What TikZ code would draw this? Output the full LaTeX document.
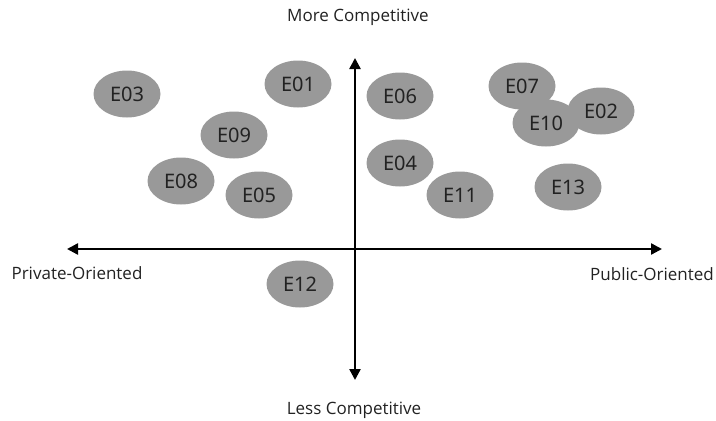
\documentclass[tikz,border=0pt]{standalone}
\usepackage{fontspec}
\setmainfont{Open Sans}
\newfontfamily\bubblefont{Noto Sans}
\usetikzlibrary{shapes.geometric,arrows.meta}
\definecolor{bubblegray}{HTML}{999999}
\definecolor{textdark}{HTML}{222222}
\begin{document}
\begin{tikzpicture}[x=1pt,y=-1pt,
  bubble/.style={ellipse,fill=bubblegray,minimum width=67pt,minimum height=47pt,inner sep=0pt,
    font=\bubblefont\fontsize{20}{20}\selectfont,text=textdark},
  axis/.style={line width=2.4pt,-{Triangle[length=11pt,width=11pt]}},
  axislabel/.style={font=\fontsize{17}{17}\selectfont,text=textdark,inner sep=0pt}]
\useasboundingbox (0,0) rectangle (716,421);
% axes
\coordinate (origin) at (355,249);
\coordinate (left) at (67,249);
\coordinate (right) at (662,249);
\coordinate (top) at (355,58);
\coordinate (bottom) at (355,380);
\draw[axis] (origin) -- (left);
\draw[axis] (origin) -- (right);
\draw[axis] (origin) -- (top);
\draw[axis] (origin) -- (bottom);
% axis labels
\node[axislabel] (more) at (358,17) {More Competitive};
\node[axislabel] (less) at (354,410) {Less Competitive};
\node[axislabel] (private) at (77,273) {Private-Oriented};
\node[axislabel] (public) at (652,274) {Public-Oriented};
% entities
\node[bubble] (e03) at (127,94) {E03};
\node[bubble] (e01) at (298,84) {E01};
\node[bubble] (e06) at (400,96) {E06};
\node[bubble] (e07) at (522,86) {E07};
\node[bubble] (e02) at (601,111) {E02};
\node[bubble] (e10) at (546,123) {E10};
\node[bubble] (e09) at (234,135) {E09};
\node[bubble] (e08) at (181,181) {E08};
\node[bubble] (e05) at (259,195) {E05};
\node[bubble] (e04) at (400,163) {E04};
\node[bubble] (e11) at (460,195) {E11};
\node[bubble] (e13) at (568,187) {E13};
\node[bubble] (e12) at (300,284) {E12};
\end{tikzpicture}
\end{document}
